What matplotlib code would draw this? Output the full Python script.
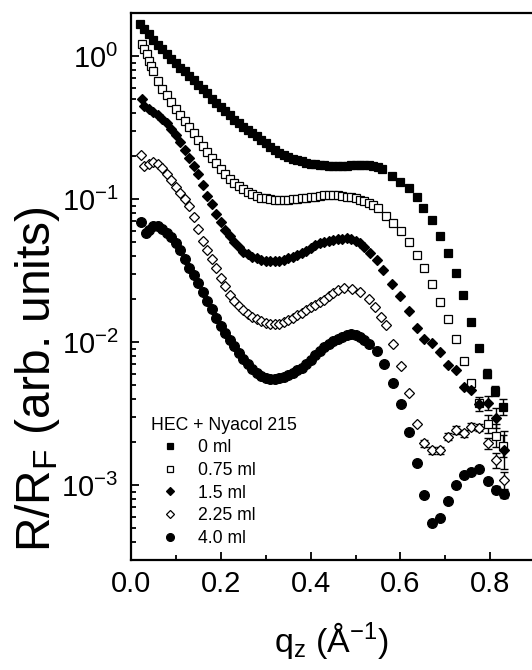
import matplotlib
matplotlib.use("Agg")
import matplotlib.pyplot as plt
import numpy as np
from matplotlib.lines import Line2D
from matplotlib.ticker import LogLocator, MultipleLocator, NullFormatter

plt.rcParams.update(
    {
        "font.family": "Liberation Sans",
        "mathtext.fontset": "custom",
        "mathtext.rm": "Liberation Sans",
        "mathtext.it": "Liberation Sans:italic",
        "mathtext.default": "regular",
        "axes.unicode_minus": False,
    }
)

# ---- data (q_z in 1/A, R/R_F in arb. units) ----
labels = ["0 ml", "0.75 ml", "1.5 ml", "2.25 ml", "4.0 ml"]

q_0 = [0.02, 0.03, 0.04, 0.05, 0.06, 0.07, 0.08, 0.09, 0.10, 0.11, 0.12, 0.13,
       0.14, 0.15, 0.16, 0.17, 0.18, 0.19, 0.20, 0.21, 0.22, 0.23, 0.24, 0.25,
       0.26, 0.27, 0.28, 0.29, 0.30, 0.31, 0.32, 0.33, 0.34, 0.35, 0.36, 0.37,
       0.38, 0.39, 0.40, 0.41, 0.42, 0.43, 0.44, 0.45, 0.46, 0.47, 0.48, 0.49,
       0.50, 0.51, 0.52, 0.53, 0.54, 0.55, 0.56, 0.582, 0.600, 0.618, 0.638,
       0.651, 0.671, 0.689, 0.707, 0.724, 0.740, 0.758, 0.776, 0.793, 0.811, 0.829]
r_0 = [1.68, 1.55, 1.42, 1.30, 1.20, 1.12, 1.04, 0.96, 0.89, 0.83, 0.78, 0.73,
       0.68, 0.63, 0.59, 0.55, 0.50, 0.47, 0.44, 0.41, 0.385, 0.36, 0.34, 0.32,
       0.305, 0.29, 0.275, 0.26, 0.245, 0.232, 0.22, 0.21, 0.203, 0.197, 0.192, 0.188,
       0.184, 0.180, 0.177, 0.175, 0.173, 0.172, 0.171, 0.171, 0.171, 0.171, 0.171, 0.172,
       0.172, 0.173, 0.173, 0.172, 0.171, 0.168, 0.162, 0.145, 0.132, 0.119, 0.103,
       0.0865, 0.0713, 0.055, 0.0418, 0.0303, 0.0212, 0.0139, 0.00915, 0.00601, 0.00457, 0.00353]
err_0 = [0.03, 0.035, 0.055]

q_075 = [0.025, 0.03, 0.035, 0.04, 0.045, 0.05, 0.06, 0.07, 0.08, 0.09, 0.10, 0.11,
         0.12, 0.13, 0.14, 0.15, 0.16, 0.17, 0.18, 0.19, 0.20, 0.21, 0.22, 0.23,
         0.24, 0.25, 0.26, 0.27, 0.28, 0.29, 0.30, 0.31, 0.32, 0.33, 0.34, 0.35,
         0.36, 0.37, 0.38, 0.39, 0.40, 0.41, 0.42, 0.43, 0.44, 0.45, 0.46, 0.47,
         0.48, 0.49, 0.50, 0.51, 0.52, 0.53, 0.54, 0.55, 0.567, 0.584, 0.602, 0.618,
         0.636, 0.653, 0.670, 0.689, 0.706, 0.724, 0.741, 0.758, 0.776, 0.794, 0.812, 0.829]
r_075 = [1.22, 1.12, 1.03, 0.93, 0.85, 0.78, 0.67, 0.59, 0.53, 0.475, 0.425, 0.385,
         0.35, 0.32, 0.29, 0.26, 0.235, 0.213, 0.193, 0.178, 0.163, 0.149, 0.138, 0.13,
         0.123, 0.117, 0.112, 0.108, 0.105, 0.102, 0.101, 0.100, 0.099, 0.0985, 0.0985, 0.099,
         0.0995, 0.100, 0.101, 0.102, 0.103, 0.104, 0.105, 0.106, 0.107, 0.107, 0.106, 0.105,
         0.104, 0.103, 0.101, 0.099, 0.097, 0.094, 0.091, 0.087, 0.076, 0.0679, 0.0596, 0.0499,
         0.0404, 0.0328, 0.0257, 0.0192, 0.0146, 0.0106, 0.00742, 0.0052, 0.00376, 0.00268, 0.00221, 0.00188]
err_075 = [0.06, 0.08, 0.08]

q_15 = [0.025, 0.03, 0.04, 0.05, 0.06, 0.07, 0.08, 0.09, 0.10, 0.11, 0.12, 0.13,
        0.14, 0.15, 0.16, 0.17, 0.18, 0.19, 0.20, 0.21, 0.22, 0.23, 0.24, 0.25,
        0.26, 0.27, 0.28, 0.29, 0.30, 0.31, 0.32, 0.33, 0.34, 0.35, 0.36, 0.37,
        0.38, 0.39, 0.40, 0.41, 0.42, 0.43, 0.44, 0.45, 0.46, 0.47, 0.48, 0.49,
        0.50, 0.51, 0.52, 0.533, 0.548, 0.562, 0.582, 0.600, 0.618, 0.636, 0.652,
        0.670, 0.689, 0.706, 0.724, 0.741, 0.758, 0.776, 0.794, 0.812, 0.830]
r_15 = [0.50, 0.445, 0.425, 0.405, 0.385, 0.365, 0.34, 0.31, 0.28, 0.25, 0.22, 0.195,
        0.17, 0.15, 0.125, 0.105, 0.092, 0.079, 0.069, 0.061, 0.055, 0.05, 0.046, 0.043,
        0.041, 0.0395, 0.0385, 0.0377, 0.0372, 0.037, 0.037, 0.0372, 0.0378, 0.0385, 0.0395, 0.0405,
        0.042, 0.0437, 0.0455, 0.0475, 0.049, 0.0503, 0.0513, 0.052, 0.0527, 0.053, 0.0532, 0.0525,
        0.051, 0.0492, 0.046, 0.0418, 0.0373, 0.0318, 0.0254, 0.0209, 0.0164, 0.0126, 0.0106,
        0.0099, 0.00857, 0.00695, 0.00641, 0.00488, 0.00465, 0.0037, 0.00376, 0.00295, 0.00176]
err_15 = [0.05, 0.05, 0.07, 0.13]

q_225 = [0.022, 0.03, 0.04, 0.05, 0.06, 0.07, 0.08, 0.09, 0.10, 0.11, 0.12, 0.13,
         0.14, 0.15, 0.16, 0.17, 0.18, 0.19, 0.20, 0.21, 0.22, 0.23, 0.24, 0.25,
         0.26, 0.27, 0.28, 0.29, 0.30, 0.31, 0.32, 0.33, 0.34, 0.35, 0.36, 0.37,
         0.38, 0.39, 0.40, 0.41, 0.42, 0.43, 0.44, 0.45, 0.46, 0.474, 0.493, 0.511,
         0.530, 0.544, 0.556, 0.567, 0.583, 0.602, 0.618, 0.636, 0.653, 0.670, 0.689,
         0.706, 0.724, 0.741, 0.758, 0.776, 0.794, 0.812, 0.830]
r_225 = [0.205, 0.17, 0.175, 0.182, 0.177, 0.165, 0.15, 0.135, 0.122, 0.111, 0.10, 0.09,
         0.075, 0.062, 0.051, 0.044, 0.038, 0.033, 0.028, 0.0245, 0.0215, 0.0195, 0.018, 0.0167,
         0.0157, 0.015, 0.0144, 0.014, 0.0137, 0.0135, 0.0134, 0.0135, 0.0138, 0.0143, 0.0148, 0.0154,
         0.016, 0.0168, 0.0176, 0.0183, 0.019, 0.0198, 0.021, 0.022, 0.023, 0.024, 0.0236, 0.0223,
         0.0201, 0.0175, 0.0149, 0.0131, 0.0097, 0.00684, 0.00444, 0.00267, 0.00196, 0.00175, 0.00175,
         0.00218, 0.00243, 0.00231, 0.00257, 0.00252, 0.00196, 0.00149, 0.00108]
err_225 = [0.025, 0.025, 0.025, 0.025, 0.025, 0.025, 0.025, 0.025, 0.04, 0.05, 0.06]

q_40 = [0.022, 0.033, 0.04, 0.05, 0.06, 0.07, 0.08, 0.09, 0.10, 0.11, 0.12, 0.13,
        0.14, 0.15, 0.16, 0.17, 0.18, 0.19, 0.20, 0.21, 0.22, 0.23, 0.24, 0.25,
        0.26, 0.27, 0.28, 0.29, 0.30, 0.31, 0.32, 0.33, 0.34, 0.35, 0.36, 0.37,
        0.38, 0.39, 0.40, 0.41, 0.42, 0.43, 0.44, 0.45, 0.46, 0.47, 0.48, 0.49,
        0.50, 0.51, 0.52, 0.53, 0.548, 0.564, 0.583, 0.602, 0.618, 0.636, 0.653,
        0.670, 0.689, 0.706, 0.724, 0.741, 0.758, 0.776, 0.794, 0.812, 0.830]
r_40 = [0.069, 0.0575, 0.061, 0.065, 0.065, 0.062, 0.058, 0.054, 0.049, 0.044, 0.038, 0.033,
        0.0295, 0.026, 0.0225, 0.0195, 0.017, 0.0148, 0.013, 0.0116, 0.0104, 0.0094, 0.0084, 0.0076,
        0.007, 0.0065, 0.0061, 0.0058, 0.0056, 0.0055, 0.0055, 0.0056, 0.0057, 0.0059, 0.0061, 0.0064,
        0.0066, 0.007, 0.0075, 0.0081, 0.0087, 0.0092, 0.0097, 0.0102, 0.0106, 0.0109, 0.0112, 0.0114,
        0.0113, 0.0109, 0.0103, 0.0097, 0.0087, 0.0070, 0.00522, 0.00368, 0.00237, 0.00143, 0.00086,
        0.000544, 0.000589, 0.000772, 0.00101, 0.00118, 0.00123, 0.00129, 0.00107, 0.00093, 0.000869]
err_40 = [0.02, 0.025, 0.03]

series = [
    (q_0, r_0, err_0, "s", "black", 6.2),
    (q_075, r_075, err_075, "s", "white", 6.2),
    (q_15, r_15, err_15, "D", "black", 5.5),
    (q_225, r_225, err_225, "D", "white", 5.5),
    (q_40, r_40, err_40, "o", "black", 7.0),
]

fig = plt.figure(figsize=(5.32, 6.70), dpi=100)
ax = fig.add_axes([0.2462, 0.1642, 0.7538, 0.8164])

handles = []
for (q, r, err, marker, face, ms), lab in zip(series, labels):
    q = np.asarray(q)
    r = np.asarray(r)
    ax.plot(q, r, linestyle="none", marker=marker, markersize=ms,
            markerfacecolor=face, markeredgecolor="black", markeredgewidth=0.9)
    n = len(err)
    d = np.asarray(err)
    qe, re = q[-n:], r[-n:]
    ax.errorbar(qe, re, yerr=[re - re * 10 ** (-d), re * 10 ** d - re], fmt="none",
                ecolor="black", elinewidth=1.0, capsize=3.2, capthick=1.0, zorder=1)
    handles.append(Line2D([], [], linestyle="none", marker=marker,
                          markersize=ms * 0.8, markerfacecolor=face,
                          markeredgecolor="black", markeredgewidth=0.9, label=lab))

ax.set_yscale("log")
ax.set_xlim(0.0, 0.893)
ax.set_ylim(3e-4, 2.0)
ax.xaxis.set_major_locator(MultipleLocator(0.2))
ax.xaxis.set_minor_locator(MultipleLocator(0.1))
ax.xaxis.set_major_formatter(plt.FormatStrFormatter("%.1f"))
ax.yaxis.set_major_locator(LogLocator(base=10, numticks=10))
ax.yaxis.set_minor_locator(LogLocator(base=10, subs=np.arange(2, 10), numticks=20))
ax.yaxis.set_minor_formatter(NullFormatter())

ax.tick_params(which="both", direction="in", labelsize=21, width=1.3)
ax.tick_params(which="major", length=6, pad=7)
ax.tick_params(axis="y", which="major", pad=9)
ax.tick_params(which="minor", length=3.5)
for side in ["left", "bottom", "top"]:
    ax.spines[side].set_linewidth(1.6)
ax.spines["right"].set_visible(False)

ax.set_xlabel("q$_{z}$ (Å$^{-1}$)", fontsize=24.5, labelpad=16)
ax.set_ylabel("R/R$_{F}$ (arb. units)", fontsize=34.5)
ax.yaxis.set_label_coords(-0.172, 0.33)

leg = ax.legend(handles=handles, title="HEC + Nyacol 215", loc="upper left",
                bbox_to_anchor=(0.05, 0.262), frameon=False, fontsize=12.7,
                title_fontsize=12.7, alignment="left", handlelength=2.2,
                handletextpad=0.45, labelspacing=0.32, borderpad=0.0,
                borderaxespad=0.0, numpoints=1)

fig.savefig("out.png", dpi=100, facecolor="white")
